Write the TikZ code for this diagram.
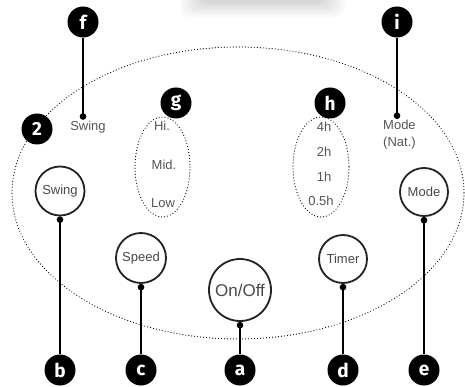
\documentclass[tikz,border=0pt]{standalone}
\usepackage{fontspec}
\setmainfont{Liberation Sans}
\newfontfamily\letterfont{Fira Sans}
\usetikzlibrary{arrows.meta}
\definecolor{ColText}{RGB}{85,85,85}
\definecolor{ColRing}{RGB}{35,35,35}
\tikzstyle{NodeButton}=[circle,draw=ColRing,line width=1.8pt,fill=white,inner sep=0pt,
text=ColText!85!black,font=\fontsize{13}{13}\selectfont]
\tikzstyle{NodeLetter}=[circle,fill=black,text=white,inner sep=0pt,minimum size=31pt,
font=\letterfont\bfseries\fontsize{19}{19}\selectfont]
\tikzstyle{NodeText}=[text=ColText,inner sep=1pt,font=\fontsize{13}{17}\selectfont]
\tikzstyle{EdgeLead}=[line width=1.9pt,{Circle[length=6.5pt]}-]
\tikzstyle{EdgeDots}=[line width=1.2pt,line cap=round,dash pattern=on 0pt off 3pt]

\begin{document}
\begin{tikzpicture}[x=1pt,y=-1pt]
        \useasboundingbox[fill=white](0,0)rectangle(465,387);
        % faded panel edge at the top
        \begin{scope}
        \clip(0,0)rectangle(465,387);
        \foreach \k in {0,...,7}
            \fill[black,opacity=0.02,rounded corners=8pt](180+3*\k,-20)rectangle(345-3*\k,17-2*\k);
        \fill[black!25](214,-8)arc[start angle=200,end angle=340,radius=13];
        \end{scope}
        % dotted outlines
        \draw[EdgeDots](238,193)ellipse[x radius=226,y radius=146];
        \draw[EdgeDots](162.5,167)ellipse[x radius=27.5,y radius=50];
        \draw[EdgeDots](321,167)ellipse[x radius=28,y radius=50];
        % buttons
        \node[NodeButton,minimum size=49pt](swing)at(60,191){Swing};
        \node[NodeButton,minimum size=50pt](speed)at(141,258){Speed};
        \node[NodeButton,minimum size=62pt,font=\fontsize{17}{17}\selectfont](onoff)at(240,290){On/Off};
        \node[NodeButton,minimum size=48pt](timer)at(343,259){Timer};
        \node[NodeButton,minimum size=48pt](mode)at(424,192){Mode};
        % panel texts
        \node[NodeText](swingtxt)at(88,127){Swing};
        \node[NodeText,align=left,anchor=north west](modetxt)at(382,119){Mode\\(Nat.)};
        \node[NodeText](hi)at(162,126){Hi.};
        \node[NodeText](mid)at(164,165){Mid.};
        \node[NodeText](low)at(163,203){Low};
        \node[NodeText](t4)at(324,127){4h};
        \node[NodeText](t2)at(324,152){2h};
        \node[NodeText](t1)at(324,177){1h};
        \node[NodeText](t05)at(321,201){0.5h};
        % letter markers
        \node[NodeLetter](two)at(37,129){2};
        \node[NodeLetter](f)at(83,22){f};
        \node[NodeLetter](i)at(397,22){i};
        \node[NodeLetter](g)at(176,103){g};
        \node[NodeLetter](h)at(330,103){h};
        \node[NodeLetter](b)at(60,370){b};
        \node[NodeLetter](c)at(141,370){c};
        \node[NodeLetter](a)at(240,370){a};
        \node[NodeLetter](d)at(343,370){d};
        \node[NodeLetter](e)at(424,370){e};
        % leaders
        \draw[EdgeLead](f|-swingtxt.north)--(f);
        \draw[EdgeLead](i|-modetxt.north)--(i);
        \draw[EdgeLead](swing.south)--(b);
        \draw[EdgeLead](speed.south)--(c);
        \draw[EdgeLead](onoff.south)--(a);
        \draw[EdgeLead](timer.south)--(d);
        \draw[EdgeLead](mode.south)--(e);
    \end{tikzpicture}
\end{document}
